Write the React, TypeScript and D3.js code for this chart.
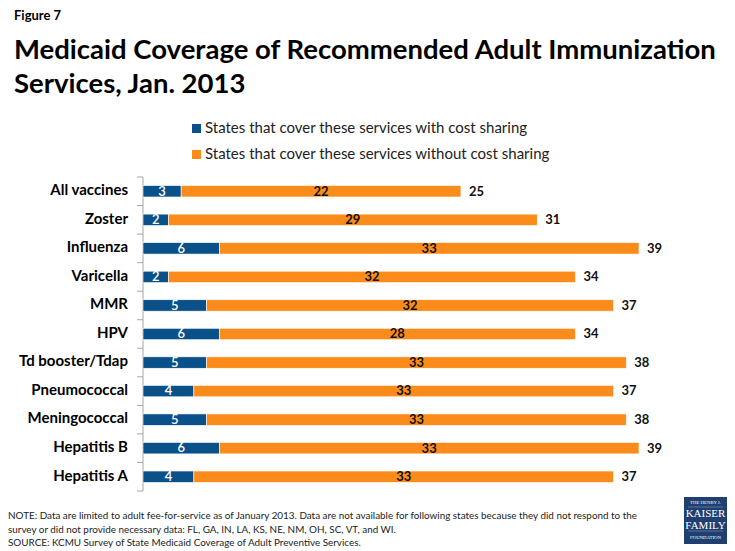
import { useRef, useEffect } from "react";
import * as d3 from "d3";

const categories = [
  "All vaccines",
  "Zoster",
  "Influenza",
  "Varicella",
  "MMR",
  "HPV",
  "Td booster/Tdap",
  "Pneumococcal",
  "Meningococcal",
  "Hepatitis B",
  "Hepatitis A",
];
const withCostSharing = [3, 2, 6, 2, 5, 6, 5, 4, 5, 6, 4];
const withoutCostSharing = [22, 29, 33, 32, 32, 28, 33, 33, 33, 33, 33];

const seriesNames = [
  "States that cover these services with cost sharing",
  "States that cover these services without cost sharing",
];

const noteLines = [
  "NOTE: Data are limited to adult fee-for-service as of January 2013. Data are not available for following states because they did not respond to the",
  "survey or did not provide necessary data: FL, GA, IN, LA, KS, NE, NM, OH, SC, VT, and WI.",
  "SOURCE:  KCMU Survey of State Medicaid Coverage of Adult Preventive Services.",
];

const blue = "#0a5089";
const orange = "#fb8c1b";
const font = "Lato, 'Open Sans', sans-serif";

export default function App() {
  const svgRef = useRef<SVGSVGElement>(null);
  const width = 735;
  const height = 551;

  useEffect(() => {
    if (!svgRef.current) return;
    const svg = d3.select(svgRef.current);
    svg.selectAll("*").remove();
    svg.attr("font-family", font);

    // Titles
    svg.append("text").attr("x", 14).attr("y", 20).attr("font-size", 13)
      .attr("font-weight", 700).text("Figure 7");
    svg.append("text").attr("x", 14).attr("y", 59).attr("font-size", 27.5)
      .attr("font-weight", 700).text("Medicaid Coverage of Recommended Adult Immunization");
    svg.append("text").attr("x", 14).attr("y", 93).attr("font-size", 27.5)
      .attr("font-weight", 700).text("Services, Jan. 2013");

    // Legend
    const legend = svg.append("g");
    seriesNames.forEach((name, i) => {
      const ly = 129 + i * 26;
      legend.append("rect").attr("x", 192).attr("y", ly - 5).attr("width", 9)
        .attr("height", 9).attr("fill", i === 0 ? blue : orange);
      legend.append("text").attr("x", 205).attr("y", ly).attr("dominant-baseline", "middle")
        .attr("font-size", 15).attr("fill", "#222").text(name);
    });

    const x = d3.scaleLinear().domain([0, 39]).range([143, 639]);
    const y = d3.scaleBand().domain(categories).range([177, 491])
      .paddingInner(0.6).paddingOuter(0.3);

    // Axis line and ticks at band boundaries
    const step = y.step();
    const g = svg.append("g");
    g.append("line").attr("x1", 143).attr("x2", 143).attr("y1", 177).attr("y2", 491)
      .attr("stroke", "#a6a6a6").attr("stroke-width", 1);
    g.selectAll("line.tick")
      .data(d3.range(categories.length + 1))
      .join("line")
      .attr("class", "tick")
      .attr("x1", 137).attr("x2", 143)
      .attr("y1", (i) => 177 + i * step)
      .attr("y2", (i) => 177 + i * step)
      .attr("stroke", "#a6a6a6");

    // Category labels
    g.selectAll("text.cat")
      .data(categories)
      .join("text")
      .attr("class", "cat")
      .attr("x", 128)
      .attr("y", (d) => (y(d) ?? 0) + y.bandwidth() / 2)
      .attr("text-anchor", "end")
      .attr("dominant-baseline", "middle")
      .attr("font-size", 15)
      .attr("font-weight", 700)
      .text((d) => d);

    const rows = categories.map((c, i) => ({
      c,
      a: withCostSharing[i],
      b: withoutCostSharing[i],
    }));

    // Blue segments
    g.selectAll("rect.a").data(rows).join("rect")
      .attr("class", "a")
      .attr("x", x(0))
      .attr("y", (d) => y(d.c) ?? 0)
      .attr("width", (d) => x(d.a) - x(0))
      .attr("height", y.bandwidth())
      .attr("fill", blue)
      .attr("stroke", "#fff").attr("stroke-width", 0.6);

    // Orange segments
    g.selectAll("rect.b").data(rows).join("rect")
      .attr("class", "b")
      .attr("x", (d) => x(d.a))
      .attr("y", (d) => y(d.c) ?? 0)
      .attr("width", (d) => x(d.a + d.b) - x(d.a))
      .attr("height", y.bandwidth())
      .attr("fill", orange)
      .attr("stroke", "#fff").attr("stroke-width", 0.6);

    const mid = (d: { c: string }) => (y(d.c) ?? 0) + y.bandwidth() / 2 + 1;

    g.selectAll("text.va").data(rows).join("text")
      .attr("class", "va")
      .attr("x", (d) => (x(0) + x(d.a)) / 2)
      .attr("y", mid)
      .attr("text-anchor", "middle").attr("dominant-baseline", "middle")
      .attr("font-size", 13).attr("font-weight", 600).attr("fill", "#fff")
      .text((d) => d.a);

    g.selectAll("text.vb").data(rows).join("text")
      .attr("class", "vb")
      .attr("x", (d) => (x(d.a) + x(d.a + d.b)) / 2)
      .attr("y", mid)
      .attr("text-anchor", "middle").attr("dominant-baseline", "middle")
      .attr("font-size", 13).attr("font-weight", 700).attr("fill", "#111")
      .text((d) => d.b);

    g.selectAll("text.tot").data(rows).join("text")
      .attr("class", "tot")
      .attr("x", (d) => x(d.a + d.b) + 8)
      .attr("y", mid)
      .attr("dominant-baseline", "middle")
      .attr("font-size", 13).attr("font-weight", 700).attr("fill", "#111")
      .text((d) => d.a + d.b);

    // Notes
    svg.selectAll("text.note").data(noteLines).join("text")
      .attr("class", "note")
      .attr("x", 8)
      .attr("y", (_, i) => 519 + i * 13.5)
      .attr("font-size", 9.9)
      .attr("fill", "#222")
      .text((d) => d);

    // Logo
    const logo = svg.append("g").attr("transform", "translate(684,497)");
    logo.append("rect").attr("width", 43).attr("height", 47).attr("fill", "#1e3f70");
    const logoText = [
      { t: "THE HENRY J.", y: 7, s: 4.8 },
      { t: "KAISER", y: 20, s: 11 },
      { t: "FAMILY", y: 32, s: 11 },
      { t: "FOUNDATION", y: 42, s: 4.8 },
    ];
    logo.selectAll("text").data(logoText).join("text")
      .attr("x", 21.5).attr("y", (d) => d.y).attr("text-anchor", "middle")
      .attr("font-family", "'Liberation Serif', serif")
      .attr("font-size", (d) => d.s).attr("fill", "#fff")
      .text((d) => d.t);
    logo.selectAll("line").data([10, 34]).join("line")
      .attr("x1", 4).attr("x2", 39).attr("y1", (d) => d).attr("y2", (d) => d)
      .attr("stroke", "#fff").attr("stroke-width", 0.3);
  }, []);

  return (
    <svg
      ref={svgRef}
      width={width}
      height={height}
      viewBox={`0 0 ${width} ${height}`}
      style={{ position: "absolute", left: 0, top: 0, background: "#fff" }}
    />
  );
}
